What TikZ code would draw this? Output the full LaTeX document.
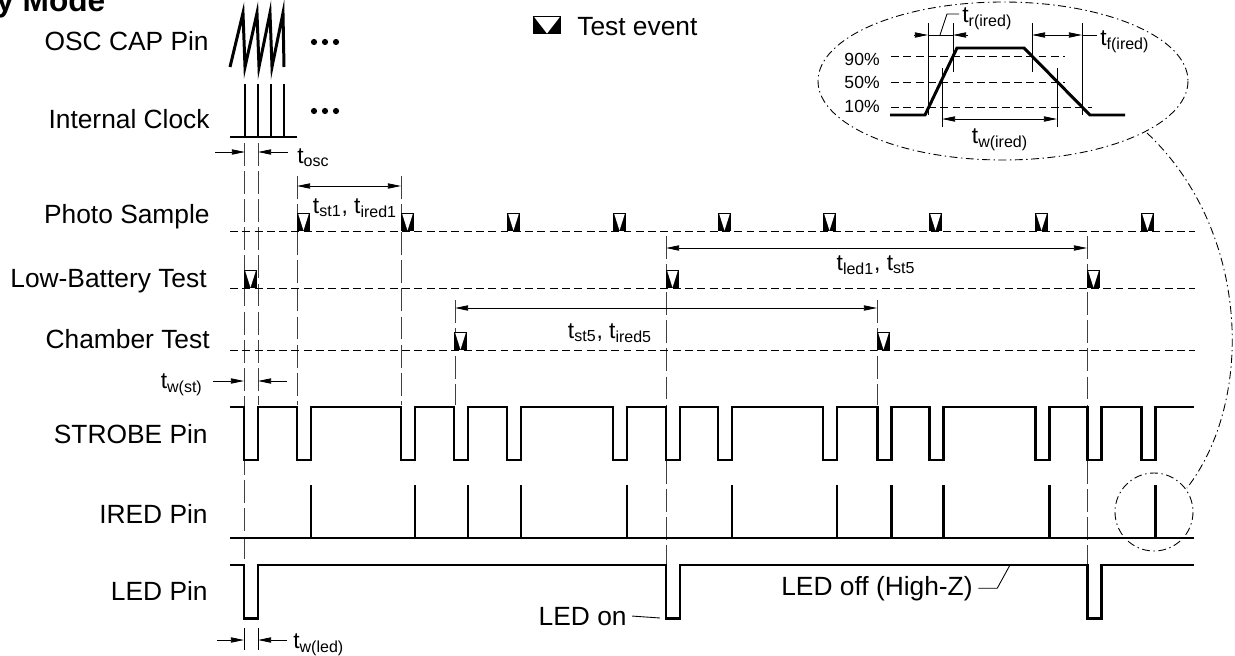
\documentclass[tikz,border=0pt]{standalone}
\usepackage{fontspec}
\setmainfont{Liberation Sans}
\usetikzlibrary{positioning, arrows.meta, calc}
\tikzset{
	wave/.style={line width=1.7pt},
	guide/.style={draw=black!75, line width=0.5pt, dash pattern=on 13pt off 3pt},
	rowline/.style={line width=0.5pt, dash pattern=on 4.5pt off 2.5pt},
	dimarr/.style={{Triangle[length=7.5pt,width=3pt]}-{Triangle[length=7.5pt,width=3pt]}, line width=0.5pt},
	onearr/.style={-{Triangle[length=7.5pt,width=3pt]}, line width=0.5pt},
	leader/.style={line width=0.5pt},
	zoomring/.style={line width=0.5pt, dash pattern=on 4.5pt off 2pt on 0.8pt off 2pt},
	pinlabel/.style={anchor=base east, inner sep=0pt, font=\fontsize{15}{17}\selectfont},
	tlabel/.style={inner sep=0pt, font=\fontsize{13}{15}\selectfont},
	pctlabel/.style={anchor=base east, inner sep=0pt, font=\fontsize{10}{12}\selectfont}
}
% test event mark: [width]{left x}{bottom y}
\newcommand{\evmark}[3][13]{%
	\fill (#2,#3) rectangle ({#2+#1},{#3-18});
	\fill[white] ({#2+1.3},{#3-16.8}) -- ({#2+#1-1.3},{#3-16.8}) -- ({#2+#1/2},{#3-0.5}) -- cycle;}

\begin{document}
\begin{tikzpicture}[x=0.02cm, y=-0.02cm]
	\useasboundingbox (0,0) rectangle (1235,656);
	\node[anchor=base west, inner sep=0pt, font=\fontsize{18}{20}\selectfont\bfseries] (title) at (-4,11) {y Mode};

	% row names
	\node[pinlabel] (osclbl) at (209,50) {OSC CAP Pin};
	\node[pinlabel] (clklbl) at (210,128) {Internal Clock};
	\node[pinlabel] (photolbl) at (210,223) {Photo Sample};
	\node[pinlabel] (battlbl) at (207,287) {Low-Battery Test};
	\node[pinlabel] (chamblbl) at (210,348) {Chamber Test};
	\node[pinlabel] (strobelbl) at (208,443) {STROBE Pin};
	\node[pinlabel] (iredlbl) at (208,523) {IRED Pin};
	\node[pinlabel] (ledlbl) at (208,600) {LED Pin};

	% legend
	\evmark[28]{533}{34}
	\node[anchor=base west, inner sep=0pt, font=\fontsize{15}{17}\selectfont] (legend) at (577,35) {Test event};

	% oscillator and clock
	\draw[wave] (230,67) -- (243,13) -- (245,67) -- (257,13) -- (259,67) -- (270,13) -- (272,67) -- (283,13) -- (284,67);
	\draw[wave] (230,137) -- (297,137);
	\foreach \c in {245,258,271,284}
		\draw[wave] (\c,137) -- (\c,84);
	\foreach \d in {0,11,22} {
		\fill (314+\d,42) circle (3.1);
		\fill (314+\d,111) circle (3.1);
	}

	% guide lines
	\draw[guide] (244,143) -- (244,565);
	\draw[guide] (258,143) -- (258,405);
	\draw[guide] (297,176) -- (297,405);
	\draw[guide] (401,176) -- (401,405);
	\draw[guide] (455,300) -- (455,405);
	\draw[guide] (666,236) -- (666,565);
	\draw[guide] (877,300) -- (877,405);
	\draw[guide] (1087,236) -- (1087,565);

	% event rows
	\draw[rowline] (230,231) -- (1195,231);
	\draw[rowline] (230,288) -- (1195,288);
	\draw[rowline] (230,350) -- (1195,350);
	\foreach \p in {297,401,507,613,718,823,929,1035,1141} {\evmark{\p}{231}}
	\foreach \p in {244,666,1087} {\evmark{\p}{288}}
	\foreach \p in {454,877} {\evmark{\p}{350}}

	% timing marks
	\draw[onearr] (215,152) -- (245,152);
	\draw[onearr] (288,152) -- (258,152);
	\node[tlabel, anchor=base west] (tosc) at (297,163) {t\textsubscript{osc}};
	\draw[dimarr] (297,186) -- (401,186);
	\node[tlabel, anchor=base] (tst1) at (355,213) {t\textsubscript{st1}, t\textsubscript{ired1}};
	\draw[dimarr] (666,248) -- (1087,248);
	\node[tlabel, anchor=base] (tled1) at (876,270) {t\textsubscript{led1}, t\textsubscript{st5}};
	\draw[dimarr] (455,308) -- (877,308);
	\node[tlabel, anchor=base] (tst5) at (610,338) {t\textsubscript{st5}, t\textsubscript{ired5}};
	\draw[onearr] (213,381) -- (244,381);
	\draw[onearr] (287,381) -- (258,381);
	\node[tlabel, anchor=base east] (twst) at (203,388) {t\textsubscript{w(st)}};

	% pins
	\draw[wave] (230,407) \foreach \s in {244,297,401,454,507,613,666,718,823,877,929,1035,1087,1141} {
		-- (\s,407) -- (\s,460) -- ({\s+14},460) -- ({\s+14},407) } -- (1194,407);
	\draw[wave] (230,538) -- (1194,538);
	\foreach \s in {311,415,468,521,627,732,837,891,943,1049,1155}
		\draw[wave] (\s,538) -- (\s,485);
	\draw[wave] (230,565) \foreach \s in {244,666,1087} {
		-- (\s,565) -- (\s,618) -- ({\s+14},618) -- ({\s+14},565) } -- (1194,565);

	\draw[leader] (244,628) -- (244,650);
	\draw[leader] (258,628) -- (258,650);
	\draw[onearr] (217,640) -- (244,640);
	\draw[onearr] (287,640) -- (258,640);
	\node[tlabel, anchor=base west] (twled) at (293,648) {t\textsubscript{w(led)}};

	\node[pinlabel] (ledon) at (627,625) {LED on};
	\coordinate (ledonpt) at (660,618);
	\draw[leader] ([xshift=3pt]ledon.east) -- (ledonpt);
	\node[pinlabel] (ledoff) at (973,595) {LED off (High-Z)};
	\coordinate (ledoffpt) at (1010,565);
	\draw[leader] ([xshift=3pt]ledoff.east) -- ++(19,0) -- (ledoffpt);

	% close-up of one IRED pulse
	\draw[zoomring] (1003,81) ellipse [x radius=185, y radius=79];
	\draw[zoomring] (1154,512) circle [radius=39];
	\draw[zoomring] (1147,133) .. controls (1250,230) and (1255,400) .. (1187,488);

	\draw[rowline] (891,56) -- (1065,56);
	\draw[rowline] (891,82) -- (1065,82);
	\draw[rowline] (891,107) -- (1092,107);
	\node[pctlabel] (p90) at (880,65) {90\%};
	\node[pctlabel] (p50) at (880,88) {50\%};
	\node[pctlabel] (p10) at (880,112) {10\%};
	\draw[wave] (890,115) -- (925,115) -- (957,48) -- (1024,48) -- (1090,115) -- (1125,115);
	\draw[leader] (928,23) -- (928,115);
	\draw[leader] (953,23) -- (953,72);
	\draw[leader] (942,68) -- (942,127);
	\draw[leader] (1057,68) -- (1057,127);
	\draw[leader] (1032,23) -- (1032,72);
	\draw[leader] (1082,23) -- (1082,115);

	\draw[onearr] (914,35) -- (928,35);
	\draw[onearr] (968,35) -- (953,35);
	\draw[leader] (928,35) -- (953,35);
	\node[tlabel, anchor=base west] (tr) at (962,22) {t\textsubscript{r(ired)}};
	\draw[leader] (940,35) -- (947,14) -- (959,14);
	\draw[dimarr] (1032,35) -- (1082,35);
	\draw[leader] (1082,35) -- (1097,35);
	\node[tlabel, anchor=base west] (tf) at (1100,45) {t\textsubscript{f(ired)}};
	\draw[dimarr] (942,119) -- (1057,119);
	\node[tlabel, anchor=base] (tw) at (1000,143) {t\textsubscript{w(ired)}};
\end{tikzpicture}
\end{document}
